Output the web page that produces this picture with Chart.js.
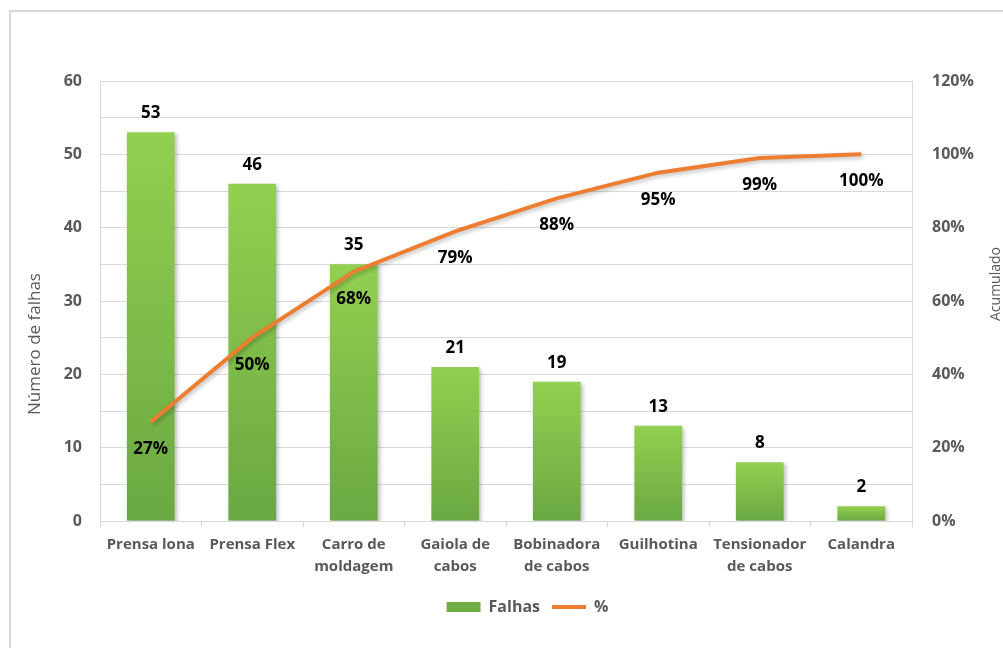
<!DOCTYPE html>
<html>
<head>
<meta charset="utf-8">
<script src="https://cdn.jsdelivr.net/npm/chart.js@4.4.0/dist/chart.umd.min.js"></script>
<style>
  html, body { margin: 0; padding: 0; background: #fff; }
  canvas { display: block; }
</style>
</head>
<body>
<canvas id="pareto" width="1003" height="648"></canvas>
<script>
// máquinas, ordenadas pelo número de falhas
const categorias = [['Prensa lona'], ['Prensa Flex'], ['Carro de', 'moldagem'], ['Gaiola de', 'cabos'],
  ['Bobinadora', 'de cabos'], ['Guilhotina'], ['Tensionador', 'de cabos'], ['Calandra']];
const falhas = [53, 46, 35, 21, 19, 13, 8, 2];
const acumulado = [27, 50, 68, 79, 88, 95, 99, 100]; // %
const ticksFalhas = [0, 10, 20, 30, 40, 50, 60];

const cinza = '#595959';
const linhaGrade = '#d9d9d9';
const fonte = '"Open Sans", "Noto Sans", sans-serif';

// degradê vertical de cada barra
function verdeBarra(context) {
  const chart = context.chart;
  if (!chart.chartArea || context.type !== 'data') return '#7cbb4a';
  const y = chart.scales.y;
  const topo = y.getPixelForValue(context.raw);
  const base = y.getPixelForValue(0);
  const g = chart.ctx.createLinearGradient(0, topo, 0, base);
  g.addColorStop(0, '#92D050');
  g.addColorStop(1, '#6AA843');
  return g;
}

// moldura em volta do gráfico
const moldura = {
  id: 'moldura',
  beforeDraw(chart) {
    const { ctx } = chart;
    ctx.save();
    ctx.strokeStyle = '#d9d9d9';
    ctx.lineWidth = 2;
    ctx.strokeRect(10, 11, 1020, 700);
    ctx.restore();
  },
  afterLayout(chart) {
    // legenda um pouco à direita do centro
    chart.legend.left += 26;
    chart.legend.right += 26;
  }
};

// sombra leve nas barras e na linha
const sombra = {
  id: 'sombra',
  beforeDatasetDraw(chart) {
    const { ctx } = chart;
    ctx.save();
    ctx.shadowColor = 'rgba(0,0,0,0.25)';
    ctx.shadowBlur = 4;
    ctx.shadowOffsetX = 2;
    ctx.shadowOffsetY = 2;
  },
  afterDatasetDraw(chart) {
    chart.ctx.restore();
  }
};

// rótulos de valor
const rotulos = {
  id: 'rotulos',
  afterDatasetsDraw(chart) {
    const { ctx } = chart;
    ctx.save();
    ctx.font = 'bold 17px ' + fonte;
    ctx.fillStyle = '#000';
    ctx.textAlign = 'center';
    ctx.textBaseline = 'middle';
    chart.getDatasetMeta(0).data.forEach((bar, i) => ctx.fillText(falhas[i], bar.x, bar.y - 19));
    chart.getDatasetMeta(1).data.forEach((pt, i) => ctx.fillText(acumulado[i] + '%', pt.x, pt.y + 27));
    ctx.restore();
  }
};

// títulos dos eixos verticais, ambos lidos de baixo para cima
const titulosEixos = {
  id: 'titulosEixos',
  afterDraw(chart) {
    const { ctx } = chart;
    const escrever = (texto, x, y, tam) => {
      ctx.save();
      ctx.translate(x, y);
      ctx.rotate(-Math.PI / 2);
      ctx.font = tam + 'px ' + fonte;
      ctx.fillStyle = cinza;
      ctx.textAlign = 'center';
      ctx.textBaseline = 'middle';
      ctx.fillText(texto, 0, 0);
      ctx.restore();
    };
    escrever('Número de falhas', 35, 344, 17);
    escrever('Acumulado', 996, 284, 14);
  }
};

new Chart(document.getElementById('pareto'), {
  data: {
    labels: categorias,
    datasets: [
      {
        type: 'bar',
        label: 'Falhas',
        data: falhas,
        yAxisID: 'y',
        backgroundColor: verdeBarra,
        categoryPercentage: 1,
        barPercentage: 0.47,
        pointStyle: 'rect',
        order: 1
      },
      {
        type: 'line',
        label: '%',
        data: acumulado,
        yAxisID: 'y2',
        borderColor: '#ED7D31',
        backgroundColor: '#ED7D31',
        borderWidth: 4,
        pointRadius: 0,
        tension: 0,
        pointStyle: 'line',
        order: 0
      }
    ]
  },
  options: {
    responsive: false,
    animation: false,
    layout: { padding: { top: 81, bottom: 23, left: 0, right: 0 } },
    plugins: {
      tooltip: { enabled: false },
      legend: {
        position: 'bottom',
        labels: {
          usePointStyle: true,
          pointStyleWidth: 34,
          boxHeight: 10,
          padding: 12,
          color: cinza,
          font: { family: fonte, size: 16, weight: 'bold' },
          sort: (a, b) => a.datasetIndex - b.datasetIndex,
          generateLabels(chart) {
            const itens = Chart.defaults.plugins.legend.labels.generateLabels(chart);
            itens.forEach(item => {
              if (item.datasetIndex === 0) {
                item.fillStyle = '#70AD47';
                item.strokeStyle = '#70AD47';
                item.lineWidth = 0;
              } else {
                item.strokeStyle = '#ED7D31';
                item.lineWidth = 4;
              }
            });
            return itens;
          }
        }
      }
    },
    scales: {
      x: {
        offset: true,
        grid: { offset: true, drawOnChartArea: false, tickLength: 6, color: linhaGrade },
        border: { color: linhaGrade },
        ticks: { color: cinza, font: { family: fonte, size: 15, weight: 'bold', lineHeight: 1.45 }, padding: 7, maxRotation: 0 },
        afterFit(scale) { scale.height = 66; }
      },
      y: {
        position: 'left',
        min: ticksFalhas[0],
        max: ticksFalhas[ticksFalhas.length - 1],
        ticks: {
          stepSize: 5,
          padding: 18,
          color: cinza,
          font: { family: fonte, size: 16, weight: 'bold' },
          callback: v => ticksFalhas.includes(v) ? v : ''
        },
        grid: { color: linhaGrade, drawTicks: false },
        border: { color: linhaGrade },
        afterFit(scale) { scale.width = 100; }
      },
      y2: {
        position: 'right',
        min: 0,
        max: 120,
        ticks: {
          stepSize: 20,
          padding: 20,
          color: cinza,
          font: { family: fonte, size: 16, weight: 'bold' },
          callback: v => v + '%'
        },
        grid: { drawOnChartArea: false, drawTicks: false },
        border: { color: linhaGrade },
        afterFit(scale) { scale.width = 91; }
      }
    }
  },
  plugins: [moldura, sombra, rotulos, titulosEixos]
});
</script>
</body>
</html>
